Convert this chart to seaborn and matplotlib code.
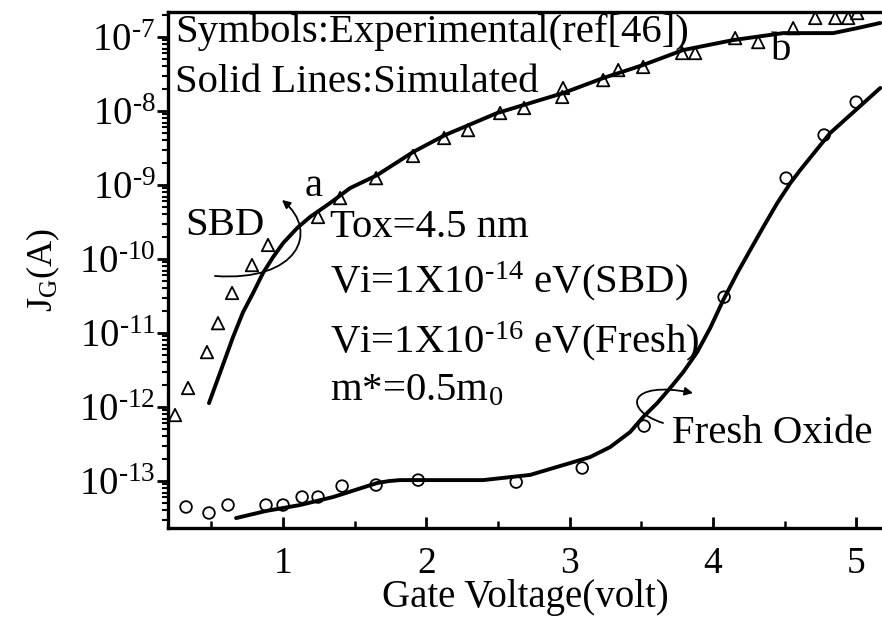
import matplotlib
matplotlib.use("Agg")
import numpy as np
import pandas as pd
import matplotlib.pyplot as plt
import seaborn as sns
from matplotlib.patches import FancyArrowPatch
from matplotlib.path import Path
from matplotlib.ticker import (LogLocator, MultipleLocator, NullFormatter,
                               FuncFormatter, FixedLocator)

# ---------------- data ----------------
sbd_exp_v = [0.246, 0.337, 0.469, 0.546, 0.644, 0.783, 0.895, 1.244, 1.398, 1.649,
             1.907, 2.124, 2.291, 2.515, 2.682, 2.954, 2.948, 3.234, 3.339, 3.513,
             3.785, 3.876, 4.155, 4.316, 4.56, 4.714, 4.854, 4.944, 5.007]
sbd_exp_j = [7.80e-13, 1.81e-12, 5.53e-12, 1.36e-11, 3.48e-11, 8.30e-11, 1.55e-10,
             3.70e-10, 6.67e-10, 1.24e-9, 2.47e-9, 4.32e-9, 5.53e-9, 9.40e-9,
             1.10e-8, 2.05e-8, 1.55e-8, 2.62e-8, 3.58e-8, 3.94e-8, 6.08e-8, 6.08e-8,
             9.68e-8, 8.55e-8, 1.32e-7, 1.81e-7, 1.81e-7, 1.81e-7, 2.11e-7]

fresh_exp_v = [0.323, 0.483, 0.616, 0.881, 1.0, 1.133, 1.244, 1.412, 1.649, 1.943,
               2.627, 3.088, 3.520, 4.078, 4.511, 4.776, 5.0]
fresh_exp_j = [4.46e-14, 3.70e-14, 4.74e-14, 4.74e-14, 4.74e-14, 6.08e-14, 6.08e-14,
               8.55e-14, 8.83e-14, 1.03e-13, 9.68e-14, 1.50e-13, 5.53e-13, 3.06e-11,
               1.24e-9, 4.74e-9, 1.32e-8]

sbd_sim_v = [0.483, 0.651, 0.72, 0.791, 0.860, 0.930, 1.0, 1.098, 1.188, 1.328,
             1.468, 1.656, 1.907, 2.131, 2.494, 2.955, 3.234, 3.513, 3.792, 4.141,
             4.490, 4.839, 5.007, 5.168]
sbd_sim_j = [1.13e-12, 8.83e-12, 1.90e-11, 3.48e-11, 6.47e-11, 1.06e-10, 1.64e-10,
             2.62e-10, 3.70e-10, 5.71e-10, 9.10e-10, 1.36e-9, 2.79e-9, 4.74e-9,
             9.40e-9, 1.75e-8, 2.79e-8, 4.19e-8, 6.67e-8, 9.10e-8, 1.13e-7, 1.13e-7,
             1.32e-7, 1.55e-7]

fresh_sim_v = [0.672, 0.881, 1.118, 1.349, 1.656, 1.74, 1.817, 2.026, 2.396, 2.724,
               3.003, 3.143, 3.283, 3.422, 3.513, 3.611, 3.702, 3.793, 3.890, 3.981,
               4.072, 4.17, 4.26, 4.351, 4.449, 4.54, 4.61, 4.818, 5.168]
fresh_sim_j = [3.16e-14, 3.94e-14, 4.74e-14, 6.08e-14, 9.40e-14, 1.00e-13, 1.03e-13,
               1.03e-13, 1.03e-13, 1.21e-13, 1.75e-13, 2.11e-13, 2.88e-13, 4.59e-13,
               7.33e-13, 1.13e-12, 1.81e-12, 2.97e-12, 5.53e-12, 1.17e-11, 2.79e-11,
               6.47e-11, 1.32e-10, 2.70e-10, 5.71e-10, 1.06e-9, 1.60e-9, 5.04e-9, 2.05e-8]

x_ticks = [1, 2, 3, 4, 5]
y_ticks = [1e-13, 1e-12, 1e-11, 1e-10, 1e-9, 1e-8, 1e-7]
x_label = "Gate Voltage(volt)"
y_label = r"J$_\mathrm{G}$(A)"

# ---------------- style ----------------
sns.set_theme(style="ticks")
plt.rcParams.update({
    "font.family": ["Liberation Serif", "DejaVu Serif"],
    "mathtext.fontset": "custom",
    "mathtext.rm": "Liberation Serif",
    "mathtext.it": "Liberation Serif:italic",
    "mathtext.bf": "Liberation Serif:bold",
    "axes.unicode_minus": False,
    "text.color": "black",
    "axes.labelcolor": "black",
    "xtick.color": "black",
    "ytick.color": "black",
})

fig = plt.figure(figsize=(8.82, 6.17), dpi=100)
ax = fig.add_axes([168 / 882, (617 - 528) / 617, 714 / 882, 516 / 617])
ax.set_yscale("log")

sns.lineplot(x=sbd_sim_v, y=sbd_sim_j, ax=ax, color="black", lw=2.8,
             sort=False, estimator=None)
sns.lineplot(x=fresh_sim_v, y=fresh_sim_j, ax=ax, color="black", lw=2.8,
             sort=False, estimator=None)
sns.scatterplot(x=sbd_exp_v, y=sbd_exp_j, ax=ax, marker="^", s=80,
                edgecolor="black", linewidth=1.3, zorder=3)
ax.collections[-1].set_facecolor("none")
sns.scatterplot(x=fresh_exp_v, y=fresh_exp_j, ax=ax, marker="o", s=70,
                edgecolor="black", linewidth=1.3, zorder=3)
ax.collections[-1].set_facecolor("none")

ax.set_xlim(0.197, 5.18)
ax.set_ylim(2.32e-14, 2.18e-7)


def log_fmt(v, pos):
    e = int(round(np.log10(v)))
    sign = "-" if e < 0 else ""
    return r"10$^{\text{%s%d}}$" % (sign, abs(e))


ax.set_xticks(x_ticks)
ax.xaxis.set_minor_locator(MultipleLocator(0.5))
ax.xaxis.set_minor_formatter(NullFormatter())
ax.yaxis.set_major_locator(FixedLocator(y_ticks))
ax.yaxis.set_major_formatter(FuncFormatter(log_fmt))
ax.yaxis.set_minor_locator(LogLocator(base=10, subs=np.arange(2, 10), numticks=20))
ax.yaxis.set_minor_formatter(NullFormatter())

for side in ["top", "left", "bottom"]:
    ax.spines[side].set_linewidth(2.4)
    ax.spines[side].set_color("black")
ax.spines["right"].set_visible(False)

ax.tick_params(axis="x", which="major", direction="in", length=8, width=2,
               labelsize=27, pad=13, top=False)
ax.tick_params(axis="x", which="minor", direction="in", length=5, width=1.8, top=False)
ax.tick_params(axis="y", which="major", direction="out", length=8, width=2,
               labelsize=28, pad=1, right=False)
ax.tick_params(axis="y", which="minor", direction="out", length=4.5, width=1.5, right=False)

ax.set_xlabel(x_label, fontsize=28, labelpad=-1)
ax.set_ylabel(y_label, fontsize=26, labelpad=12)

# ---------------- text ----------------
T = ax.transAxes
fs = 29.3
ax.text(0.0098, 0.942, "Symbols:Experimental(ref[46])", transform=T, fontsize=fs, va="baseline")
ax.text(0.0098, 0.845, "Solid Lines:Simulated", transform=T, fontsize=fs, va="baseline")
ax.text(0.227, 0.564, "Tox=4.5 nm", transform=T, fontsize=fs, va="baseline")
ax.text(0.227, 0.457, r"Vi=1X10$^{\text{-14}}$ eV(SBD)", transform=T, fontsize=fs, va="baseline")
ax.text(0.227, 0.341, r"Vi=1X10$^{\text{-16}}$ eV(Fresh)", transform=T, fontsize=fs, va="baseline")
ax.text(0.227, 0.248, r"m*=0.5m$_{\mathrm{0}}$", transform=T, fontsize=fs, va="baseline")
ax.text(0.0238, 0.568, "SBD", transform=T, fontsize=fs, va="baseline")
ax.text(0.192, 0.643, "a", transform=T, fontsize=fs, va="baseline")
ax.text(0.8445, 0.907, "b", transform=T, fontsize=fs, va="baseline")
ax.text(0.706, 0.165, "Fresh Oxide", transform=T, fontsize=fs, va="baseline")

codes = [Path.MOVETO, Path.CURVE4, Path.CURVE4, Path.CURVE4]
sbd_arc = Path([(0.0658, 0.4884), (0.1821, 0.4767), (0.2129, 0.5736), (0.1597, 0.6357)], codes)
fresh_arc = Path([(0.6933, 0.2035), (0.6359, 0.2287), (0.6443, 0.2868), (0.7353, 0.2616)], codes)
for p in (sbd_arc, fresh_arc):
    ax.add_patch(FancyArrowPatch(path=p, arrowstyle="-|>", mutation_scale=12,
                                 lw=1.3, color="black", transform=T))

fig.savefig("out.png", dpi=100)
